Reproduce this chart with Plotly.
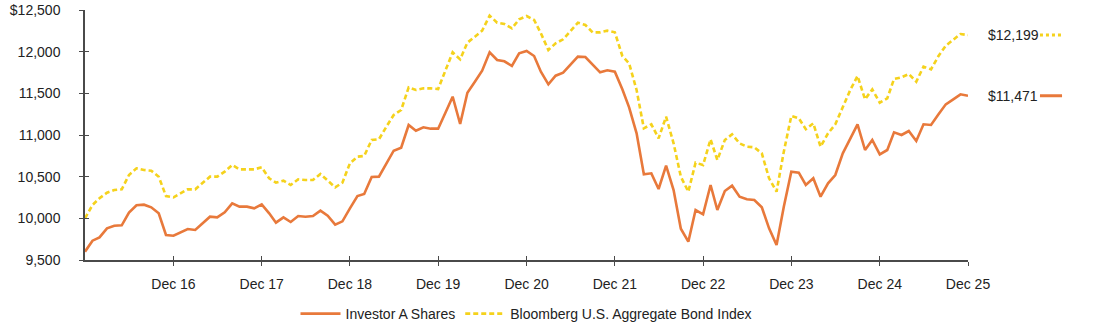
import pandas as pd
import plotly.graph_objects as go

dates = pd.date_range("2015-12-31", periods=121, freq="ME")

investor_a = [
    9600, 9732, 9772, 9880, 9912, 9916, 10068, 10156, 10164, 10132, 10060, 9800,
    9792, 9832, 9872, 9860, 9940, 10020, 10012, 10072, 10180, 10140, 10140, 10120,
    10168, 10060, 9948, 10012, 9956, 10028, 10020, 10028, 10092, 10032, 9924, 9964,
    10120, 10268, 10292, 10496, 10500, 10660, 10812, 10848, 11120, 11052, 11092, 11076,
    11076, 11272, 11460, 11132, 11508, 11640, 11772, 11992, 11900, 11884, 11828, 11980,
    12008, 11948, 11760, 11608, 11712, 11748, 11840, 11940, 11936, 11840, 11752, 11776,
    11760, 11548, 11332, 11020, 10528, 10540, 10352, 10632, 10340, 9876, 9720, 10100,
    10048, 10400, 10100, 10328, 10392, 10260, 10228, 10220, 10132, 9880, 9680, 10140,
    10560, 10548, 10400, 10480, 10260, 10420, 10520, 10780, 10948, 11128, 10820, 10940,
    10768, 10820, 11032, 11000, 11048, 10928, 11128, 11120, 11248, 11368, 11428, 11488,
    11471,
]

bloomberg = [
    10000, 10160, 10240, 10308, 10340, 10348, 10520, 10600, 10580, 10572, 10500, 10268,
    10252, 10300, 10348, 10348, 10428, 10500, 10500, 10560, 10640, 10588, 10588, 10588,
    10612, 10480, 10428, 10452, 10400, 10468, 10460, 10460, 10532, 10448, 10372, 10428,
    10660, 10740, 10748, 10940, 10948, 11100, 11240, 11300, 11572, 11540, 11560, 11560,
    11552, 11780, 11992, 11908, 12108, 12180, 12252, 12432, 12348, 12332, 12280, 12388,
    12428, 12380, 12220, 12020, 12100, 12148, 12240, 12348, 12320, 12232, 12232, 12252,
    12232, 11948, 11860, 11540, 11080, 11128, 10960, 11220, 10900, 10500, 10320, 10668,
    10640, 10948, 10700, 10940, 11008, 10900, 10860, 10852, 10780, 10480, 10320, 10800,
    11228, 11200, 11070, 11140, 10860, 11020, 11128, 11340, 11540, 11708, 11428, 11548,
    11388, 11440, 11672, 11692, 11732, 11640, 11820, 11788, 11948, 12072, 12148, 12212,
    12199,
]

series_names = ["Investor A Shares", "Bloomberg U.S. Aggregate Bond Index"]
x_tick_dates = pd.date_range("2016-12-31", periods=10, freq="12ME")
x_tick_labels = ["Dec 16", "Dec 17", "Dec 18", "Dec 19", "Dec 20",
                 "Dec 21", "Dec 22", "Dec 23", "Dec 24", "Dec 25"]
y_tick_vals = [9500, 10000, 10500, 11000, 11500, 12000, 12500]
y_tick_labels = ["9,500", "10,000", "10,500", "11,000", "11,500", "12,000", "$12,500"]

ORANGE = "#E8793B"
YELLOW = "#F5D21C"
AXIS = "#4a4a4a"
FONT = "Liberation Sans, Arial, sans-serif"

fig = go.Figure()
fig.add_trace(go.Scatter(x=dates, y=investor_a, name=series_names[0], mode="lines",
                         line=dict(color=ORANGE, width=2.6)))
fig.add_trace(go.Scatter(x=dates, y=bloomberg, name=series_names[1], mode="lines",
                         line=dict(color=YELLOW, width=2.6, dash="5px,3px")))
# invisible helper trace to draw the inward half of the crossing ticks
fig.add_trace(go.Scatter(x=[dates[0]], y=[y_tick_vals[0]], xaxis="x2", yaxis="y2",
                         mode="markers", marker=dict(opacity=0), showlegend=False,
                         hoverinfo="skip"))

xr = [dates[0], dates[-1]]
yr = [y_tick_vals[0], y_tick_vals[-1]]

common_x = dict(range=xr, tickvals=list(x_tick_dates), showgrid=False, zeroline=False,
                tickcolor=AXIS, tickwidth=1.3, ticklen=4)
common_y = dict(range=yr, tickvals=y_tick_vals, showgrid=False, zeroline=False,
                tickcolor=AXIS, tickwidth=1.3, ticklen=4)

fig.update_layout(
    width=1094, height=327,
    margin=dict(l=85, r=126, t=10, b=67, autoexpand=False),
    paper_bgcolor="white", plot_bgcolor="white",
    font=dict(family=FONT, size=14, color="#222"),
    xaxis=dict(**common_x, ticktext=x_tick_labels, ticks="outside",
               showline=True, linecolor=AXIS, linewidth=1.5,
               ticklabelstandoff=6, tickfont=dict(size=14, color="#222")),
    yaxis=dict(**common_y, ticktext=y_tick_labels, ticks="outside",
               showline=True, linecolor=AXIS, linewidth=1.5,
               ticklabelstandoff=16, tickfont=dict(size=14, color="#222")),
    xaxis2=dict(**common_x, overlaying="x", ticks="inside", showticklabels=False,
                showline=False, anchor="y2"),
    yaxis2=dict(**common_y, overlaying="y", ticks="inside", showticklabels=False,
                showline=False, anchor="x2"),
    legend=dict(orientation="h", x=0.5, xanchor="center", y=-0.216, yanchor="middle",
                font=dict(size=14, color="#222"), itemwidth=40, traceorder="normal",
                entrywidth=0),
    showlegend=True,
)

# end-of-line value labels with short key lines
for vals, color, dash in [(bloomberg, YELLOW, "3px,3px"), (investor_a, ORANGE, "solid")]:
    last = vals[-1]
    fig.add_annotation(xref="paper", yref="y", x=1.02, y=last, xanchor="left",
                       yanchor="middle", text=f"${last:,.0f}", showarrow=False,
                       font=dict(size=14, color="#222"))
    fig.add_shape(type="line", xref="paper", yref="y", x0=1.0815, x1=1.1065,
                  y0=last, y1=last, line=dict(color=color, width=3, dash=dash))

fig.write_html("out.html")
